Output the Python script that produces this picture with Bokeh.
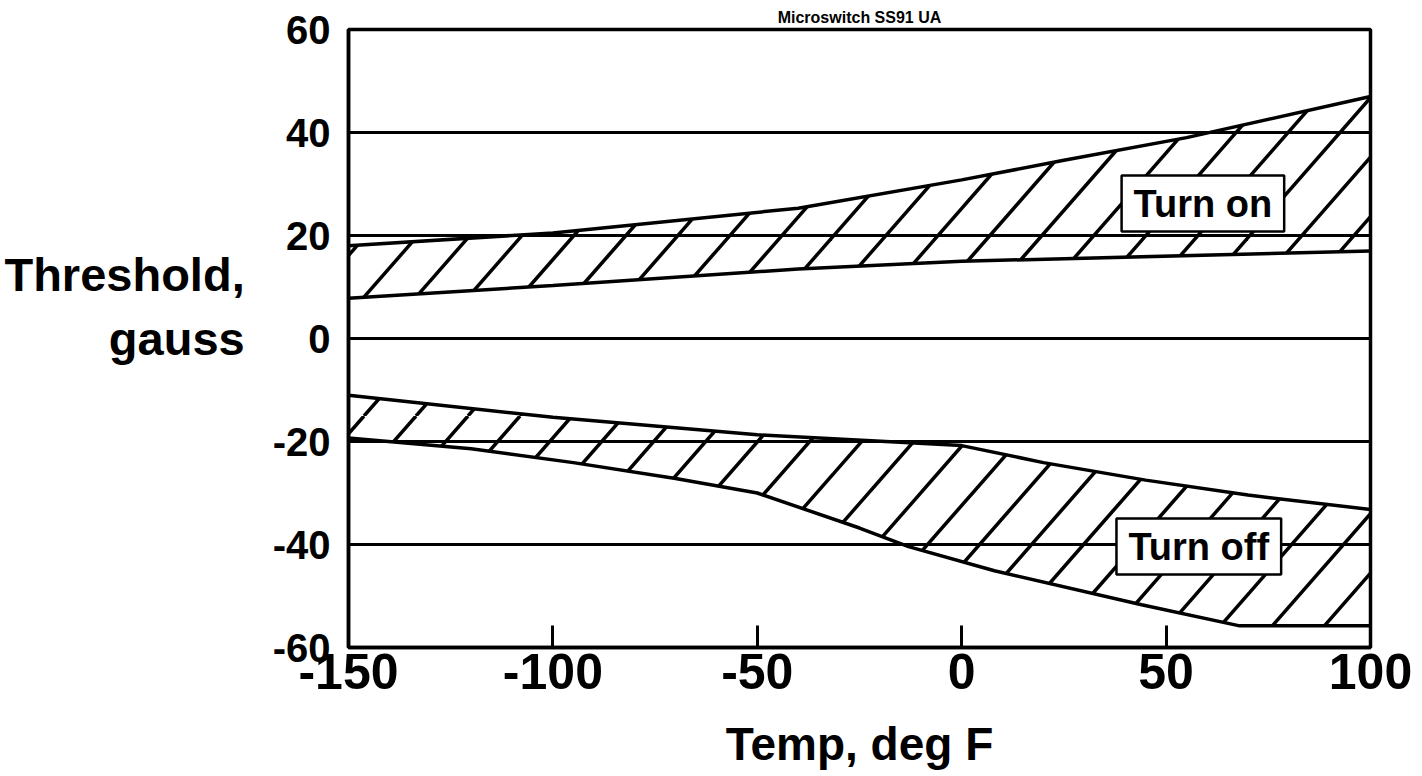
import base64
from bokeh.plotting import figure
from bokeh.models import FixedTicker, Label, Range1d, ImageURLTexture
from bokeh.embed import file_html
from bokeh.resources import INLINE

# ---- data ----
temp_ticks = [-150, -100, -50, 0, 50, 100]
gauss_ticks = [-60, -40, -20, 0, 20, 40, 60]

on_hi_t = [-150, -100, -40, 0, 25, 55, 100]
on_hi_g = [18, 20.5, 25.3, 30.8, 34.6, 39, 47]
on_lo_t = [-150, -100, -40, 0, 100]
on_lo_g = [7.8, 10.3, 13.5, 15, 17]

off_hi_t = [-150, -100, -50, 0, 20, 45, 70, 100]
off_hi_g = [-11, -15.3, -18.7, -20.8, -24.1, -27.5, -30.4, -33.2]
off_lo_t = [-150, -120, -95, -70, -50, -25, -13, 8, 44, 68, 100]
off_lo_g = [-19.3, -21.4, -24.1, -27.2, -30, -36.8, -40.4, -45.1, -51.7, -55.8, -55.8]

title_text = "Microswitch SS91 UA"
x_title = "Temp, deg F"
y_title = "Threshold,\ngauss\n"
band_labels = ["Turn on", "Turn off"]
band_label_pos = [(59, 26.2), (58, -40.4)]

FONT = "Liberation Sans"

# hatch tile: diagonal strokes ~49 degrees, 52 px apart (style only)
TILE, STEP = 416, 52
strokes = "".join(
    f'<line x1="{i*STEP}" y1="{TILE}" x2="{i*STEP + 7*STEP}" y2="0" />'
    for i in range(-9, 10))
tile_svg = (f'<svg xmlns="http://www.w3.org/2000/svg" width="{TILE}" height="{TILE}" '
            f'viewBox="0 0 {TILE} {TILE}"><g stroke="black" stroke-width="3.5">{strokes}</g></svg>')
diag = ImageURLTexture(url="data:image/svg+xml;base64," + base64.b64encode(tile_svg.encode()).decode())

p = figure(width=1418, height=774, output_backend="svg", toolbar_location=None,
           x_range=Range1d(-150, 100), y_range=Range1d(-60, 60),
           min_border_left=348, min_border_right=48, min_border_top=29, min_border_bottom=127)

p.title.text = title_text
p.title.align = "center"
p.title.text_font = FONT
p.title.text_font_style = "bold"
p.title.text_font_size = "16px"
p.title.text_color = "black"
p.title.standoff = 8

p.outline_line_color = "black"
p.outline_line_width = 3.5
p.background_fill_color = "white"
p.border_fill_color = "white"

# axes
p.xaxis.ticker = FixedTicker(ticks=temp_ticks)
p.yaxis.ticker = FixedTicker(ticks=gauss_ticks)
p.xaxis.major_label_overrides = {t: str(t) for t in temp_ticks}
p.yaxis.major_label_overrides = {t: str(t) for t in gauss_ticks}
for ax in (p.xaxis, p.yaxis):
    ax.axis_line_color = "black"
    ax.axis_line_width = 3.5
    ax.minor_tick_line_color = None
    ax.minor_tick_in = 0
    ax.minor_tick_out = 0
    ax.major_label_text_font = FONT
    ax.major_label_text_font_style = "bold"
    ax.major_label_text_color = "black"
    ax.axis_label_text_font = FONT
    ax.axis_label_text_font_style = "bold"
    ax.axis_label_text_color = "black"
p.xaxis.major_tick_in = 22
p.xaxis.major_tick_out = 0
p.xaxis.major_tick_line_width = 3
p.xaxis.major_tick_line_color = "black"
p.xaxis.major_label_text_font_size = "50px"
p.xaxis.major_label_standoff = 6
p.xaxis.axis_label = x_title
p.xaxis.axis_label_text_font_size = "46px"
p.xaxis.axis_label_standoff = 26

p.yaxis.major_tick_line_color = None
p.yaxis.major_tick_in = 0
p.yaxis.major_tick_out = 0
p.yaxis.major_label_text_font_size = "40px"
p.yaxis.major_label_standoff = 18
p.yaxis.axis_label = y_title
p.yaxis.axis_label_orientation = "horizontal"
p.yaxis.axis_label_text_font_size = "47px"
p.yaxis.axis_label_standoff = 25

p.xgrid.grid_line_color = None
p.ygrid.grid_line_color = "black"
p.ygrid.grid_line_width = 3
p.ygrid.grid_line_alpha = 1.0

# hatched bands
for (ht, hg, lt, lg) in [(on_hi_t, on_hi_g, on_lo_t, on_lo_g),
                         (off_hi_t, off_hi_g, off_lo_t, off_lo_g)]:
    xs = list(ht) + list(lt)[::-1]
    ys = list(hg) + list(lg)[::-1]
    p.patch(xs, ys, fill_color=None, hatch_pattern="diag", hatch_extra={"diag": diag},
            hatch_scale=TILE, hatch_weight=3, hatch_color="black", line_color=None)
    p.line(ht, hg, line_color="black", line_width=3.5)
    p.line(lt, lg, line_color="black", line_width=3.5)

# band labels
for txt, (bx, by) in zip(band_labels, band_label_pos):
    p.add_layout(Label(x=bx, y=by, text=txt, text_align="center", text_baseline="middle",
                       text_font=FONT, text_font_style="bold", text_font_size="38px",
                       text_color="black", background_fill_color="white",
                       border_line_color="black", border_line_width=2.5,
                       padding=(12, 7)))

open("out.html", "w").write(file_html(p, INLINE))
